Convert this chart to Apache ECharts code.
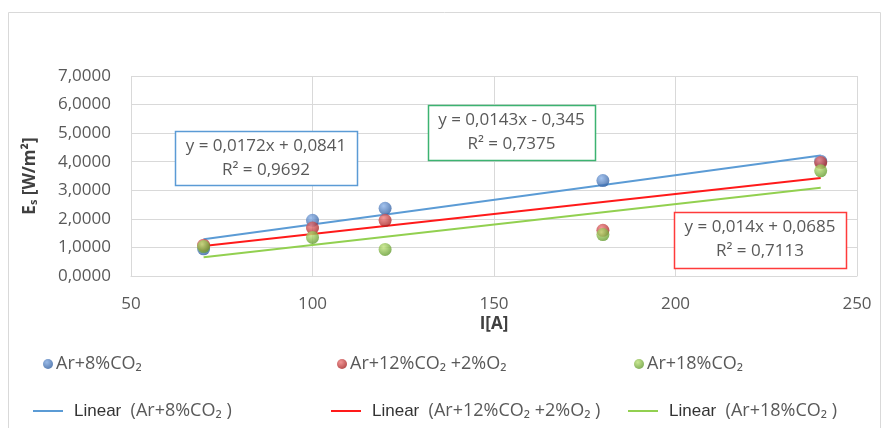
<!DOCTYPE html>
<html><head><meta charset="utf-8">
<script src="https://cdn.jsdelivr.net/npm/echarts@6/dist/echarts.min.js"></script>
<style>html,body{margin:0;padding:0;background:#fff}#c{width:893px;height:428px}</style>
</head><body><div id="c"></div>
<script>
const currents = [70, 100, 120, 180, 240];
const ar8 = [0.95, 1.95, 2.37, 3.34, 4.02];
const ar12 = [1.08, 1.68, 1.95, 1.60, 3.97];
const ar18 = [1.03, 1.35, 0.93, 1.45, 3.68];
const seriesNames = ['Ar+8%CO₂', 'Ar+12%CO₂ +2%O₂', 'Ar+18%CO₂'];
const trendNames = ['Linear  (Ar+8%CO₂ )', 'Linear  (Ar+12%CO₂ +2%O₂ )', 'Linear  (Ar+18%CO₂ )'];
const equations = ['y = 0,0172x + 0,0841\nR² = 0,9692', 'y = 0,014x + 0,0685\nR² = 0,7113', 'y = 0,0143x - 0,345\nR² = 0,7375'];
const xTicks = [50, 100, 150, 200, 250];
const yTicks = [0, 1, 2, 3, 4, 5, 6, 7];

const FONT = '"Open Sans"';
const pts = ys => currents.map((x, i) => [x, ys[i]]);
function fit(ys) {
  const n = currents.length;
  const mx = currents.reduce((a, b) => a + b, 0) / n;
  const my = ys.reduce((a, b) => a + b, 0) / n;
  let sxy = 0, sxx = 0;
  currents.forEach((x, i) => { sxy += (x - mx) * (ys[i] - my); sxx += (x - mx) * (x - mx); });
  const m = sxy / sxx, b = my - m * mx;
  const x0 = Math.min(...currents), x1 = Math.max(...currents);
  return [[x0, m * x0 + b], [x1, m * x1 + b]];
}
const grad = (l, d) => ({type: 'radial', x: 0.38, y: 0.32, r: 0.75, colorStops: [{offset: 0, color: l}, {offset: 1, color: d}]});
const markerCols = [grad('#8db4ea', '#2c5a9c'), grad('#f08080', '#a01c1c'), grad('#c3e67e', '#5c962a')];
const legendDot = [grad('#7fa8e0', '#2c5a9c'), grad('#ee7a7a', '#a01c1c'), grad('#bde278', '#5c962a')];
const lineCols = ['#5b9bd5', '#ff1a1a', '#92d050'];
const dataSets = [ar8, ar12, ar18];

const series = [];
dataSets.forEach((ys, i) => {
  series.push({name: trendNames[i], type: 'line', data: fit(ys), symbol: 'none', lineStyle: {color: lineCols[i], width: 2}, itemStyle: {color: lineCols[i]}, z: 2});
});
dataSets.forEach((ys, i) => {
  series.push({name: seriesNames[i], type: 'scatter', data: pts(ys), symbolSize: 13, itemStyle: {color: markerCols[i]}, z: 3});
});

const legRow1 = 363, legRow2 = 410;
const legX1 = [43, 337, 634], legX2 = [33, 331, 628];
const legends = [];
seriesNames.forEach((n, i) => legends.push({data: [{name: n, itemStyle: {color: legendDot[i]}}], left: legX1[i], top: legRow1 - 8, padding: 0, icon: 'circle', itemWidth: 10, itemHeight: 10,
  textStyle: {fontFamily: FONT, fontSize: 18, color: '#595959', padding: [0, 0, 0, -2]}}));
trendNames.forEach((n, i) => legends.push({data: [n], left: legX2[i], top: legRow2 - 8, padding: 0, icon: 'rect', itemWidth: 30, itemHeight: 2,
  formatter: s => '{a|Linear}  {b|' + s.replace(/^Linear\s+/, '') + '}',
  textStyle: {fontFamily: FONT, fontSize: 18, color: '#595959', padding: [0, 0, 0, 6],
    rich: {a: {fontFamily: 'Liberation Sans', fontSize: 17, color: '#333333'}, b: {fontFamily: FONT, fontSize: 18, color: '#595959'}}}}));

const boxes = [
  {x: 175, y: 131, w: 182, h: 54, stroke: '#5b9bd5', eq: equations[0]},
  {x: 674, y: 212, w: 172, h: 56, stroke: '#ff3b3b', eq: equations[1]},
  {x: 428, y: 105, w: 167, h: 55, stroke: '#3cb371', eq: equations[2]}
];
const graphic = [{type: 'rect', shape: {x: 8.5, y: 12.5, width: 872, height: 420}, style: {fill: 'none', stroke: '#d9d9d9', lineWidth: 1}, silent: true}];
boxes.forEach(b => {
  graphic.push({type: 'rect', shape: {x: b.x + 0.5, y: b.y + 0.5, width: b.w, height: b.h}, style: {fill: '#fff', stroke: b.stroke, lineWidth: 1.5}, z: 10});
  graphic.push({type: 'text', x: b.x + b.w / 2, y: b.y + 3, style: {text: b.eq, textAlign: 'center', font: '17px ' + FONT, fill: '#595959', lineHeight: 24}, z: 11});
});

const chart = echarts.init(document.getElementById('c'));
chart.setOption({
  animation: false,
  grid: {left: 131, right: 36, top: 76, bottom: 152},
  xAxis: {type: 'value', min: xTicks[0], max: xTicks[xTicks.length - 1], interval: 50,
    name: 'I[A]', nameLocation: 'middle', nameGap: 40,
    nameTextStyle: {fontFamily: FONT, fontSize: 17, fontWeight: 'bold', color: '#404040'},
    axisLine: {show: true, lineStyle: {color: '#d9d9d9'}}, axisTick: {show: false},
    axisLabel: {fontFamily: FONT, fontSize: 17, color: '#595959', margin: 20},
    splitLine: {show: true, lineStyle: {color: '#d9d9d9'}}},
  yAxis: {type: 'value', min: yTicks[0], max: yTicks[yTicks.length - 1], interval: 1,
    name: 'E{s|s} [W/m²]', nameLocation: 'middle', nameGap: 92, nameRotate: 90,
    nameTextStyle: {fontFamily: FONT, fontSize: 17, fontWeight: 'bold', color: '#404040', rich: {s: {fontFamily: FONT, fontSize: 11, fontWeight: 'bold', color: '#404040', verticalAlign: 'bottom', padding: [7, 0, 0, 0]}}},
    axisLine: {show: false}, axisTick: {show: false},
    axisLabel: {fontFamily: FONT, fontSize: 17, color: '#595959', margin: 20, formatter: v => v.toFixed(4).replace('.', ',')},
    splitLine: {show: true, lineStyle: {color: '#d9d9d9'}}},
  legend: legends,
  series: series,
  graphic: graphic
});
</script></body></html>
